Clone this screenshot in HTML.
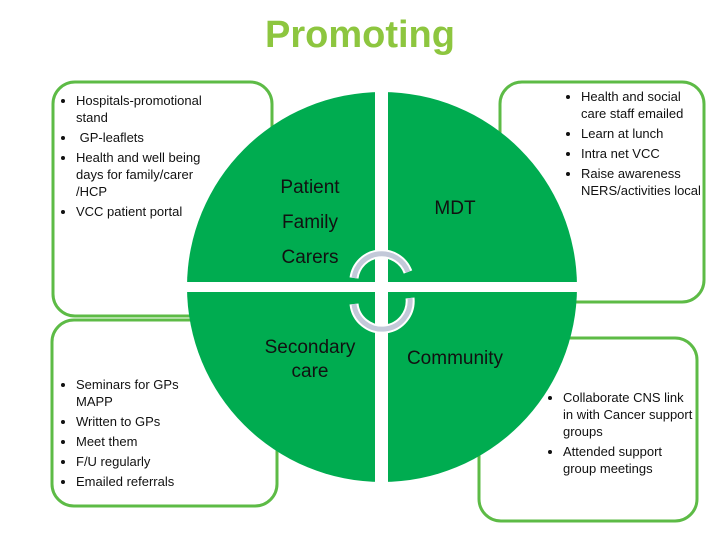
<!DOCTYPE html>
<html><head><meta charset="utf-8"><style>
body{margin:0;width:720px;height:540px;background:#fff;position:relative;overflow:hidden;font-family:"Liberation Sans",sans-serif;}
.t{position:absolute;font-size:13px;line-height:17px;color:#111;}
.t ul{margin:0;padding:0 0 0 14px;}
.t li{margin-bottom:3px;}
.c{position:absolute;color:#111;font-size:19px;text-align:center;}
</style></head><body>
<svg width="720" height="540" style="position:absolute;left:0;top:0">
<g fill="#fff" stroke="#5dbb46" stroke-width="3">
<rect x="53" y="82" width="219" height="234" rx="22"/>
<rect x="52" y="320" width="225" height="186" rx="22"/>
<rect x="500" y="82" width="204" height="220" rx="22"/>
<rect x="479" y="338" width="218" height="183" rx="22"/>
</g>
<circle cx="382" cy="287" r="195" fill="#00ac50"/>
<rect x="375" y="80" width="13" height="410" fill="#fff"/>
<rect x="180" y="282" width="410" height="10" fill="#fff"/>
<g fill="none" stroke-linecap="butt">
<path d="M354 278 A28 28 0 0 1 408 272" stroke="#fff" stroke-width="9"/>
<path d="M354 278 A28 28 0 0 1 408 272" stroke="#c3c9d9" stroke-width="5"/>
<path d="M410 298 A28 28 0 0 1 354 304" stroke="#fff" stroke-width="9"/>
<path d="M410 298 A28 28 0 0 1 354 304" stroke="#c3c9d9" stroke-width="5"/>
</g>
</svg>
<div style="position:absolute;left:0;width:720px;top:14px;text-align:center;font-size:38px;font-weight:bold;color:#8dc63f">Promoting</div>
<div class="t" style="left:62px;top:92px;width:140px;line-height:17px"><ul style="list-style:disc"><li style="margin:0">Hospitals-promotional stand</li><li style="margin-top:3px">&nbsp;GP-leaflets</li><li style="margin-top:3px">Health and well being days for family/carer /HCP</li><li style="margin-top:3px">VCC patient portal</li></ul></div>
<div class="t" style="left:62px;top:376px;width:140px"><ul><li>Seminars for GPs MAPP</li><li>Written to GPs</li><li>Meet them</li><li>F/U regularly</li><li>Emailed referrals</li></ul></div>
<div class="t" style="left:567px;top:88px;width:140px"><ul style="margin:0"><li style="margin-bottom:3px">Health and social care staff emailed</li><li>Learn at lunch</li><li>Intra net VCC</li><li>Raise awareness NERS/activities local</li></ul></div>
<div class="t" style="left:549px;top:389px;width:145px"><ul><li>Collaborate CNS link in with Cancer support groups</li><li>Attended support group meetings</li></ul></div>
<div class="c" style="left:270px;top:170px;width:80px;line-height:35px">Patient<br>Family<br>Carers</div>
<div class="c" style="left:420px;top:198px;width:70px">MDT</div>
<div class="c" style="left:255px;top:336px;width:110px;line-height:24px">Secondary<br>care</div>
<div class="c" style="left:395px;top:348px;width:120px">Community</div>
</body></html>
